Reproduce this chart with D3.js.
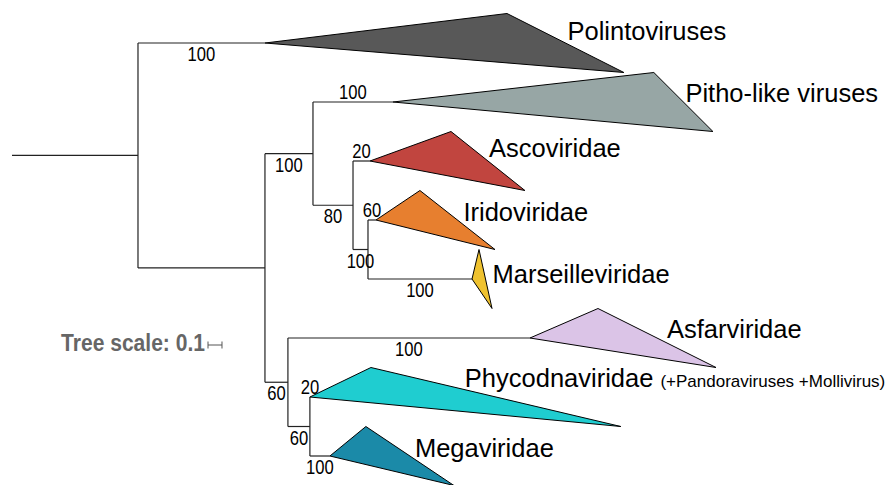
<!DOCTYPE html>
<html>
<head>
<meta charset="utf-8">
<style>
  body { margin: 0; background: #fff; }
  svg { display: block; font-family: "Liberation Sans", Arial, sans-serif; }
</style>
</head>
<body>
<svg width="890" height="485"></svg>
<script src="https://d3js.org/d3.v7.min.js"></script>
<script>

// tree: node ids, parents, branch lengths and bootstrap support
var nodeIds       = ["A", "Polintoviruses", "B", "C", "Pitho-like viruses", "D", "Ascoviridae", "E", "Iridoviridae", "Marseilleviridae", "F", "Asfarviridae", "G", "Phycodnaviridae", "Megaviridae"];
var parentIds     = ["",  "A",              "A", "B", "C",                  "C", "D",           "D", "E",            "E",                "B", "F",            "F", "G",               "G"];
var branchLengths = [0.9, 0.907, 0.907, 0.343, 0.571, 0.286, 0.121, 0.107, 0.057, 0.743, 0.164, 1.729, 0.157, 0.0, 0.143];
var supports      = [null, 100, null, 100, 100, 80, 20, 100, 60, 100, 60, 100, 60, 20, 100];

// collapsed clades (in leaf order): depth to nearest / farthest member
var clades        = ["Polintoviruses", "Pitho-like viruses", "Ascoviridae", "Iridoviridae", "Marseilleviridae", "Asfarviridae", "Phycodnaviridae", "Megaviridae"];
var cladeMinDepth = [1.729, 1.864, 0.579, 0.314, 0.050, 0.486, 0.436, 0.257];
var cladeMaxDepth = [2.564, 2.286, 1.107, 0.850, 0.143, 1.329, 2.221, 0.886];
var cladeNotes    = ["", "", "", "", "", "", "(+Pandoraviruses +Mollivirus)", ""];

var scaleLength = 0.1;

var svg = d3.select("svg");

var color = d3.scaleOrdinal()
    .domain(clades)
    .range(["#585858", "#97a6a5", "#c1453f", "#e77f2f", "#efc22f", "#dbc4e7", "#1fcdd0", "#1b8aa8"]);

// label nudges, picked by eye
var labelOffset = {
  "Polintoviruses": [2, -3], "Pitho-like viruses": [2, 0], "Ascoviridae": [1, -4],
  "Iridoviridae": [6, 1], "Marseilleviridae": [7, 4], "Asfarviridae": [10, 0],
  "Phycodnaviridae": [-31, -10], "Megaviridae": [5, 1]
};
var supportAbove = ["Pitho-like viruses", "Ascoviridae", "Iridoviridae", "Phycodnaviridae"];

var rows = nodeIds.map(function(id, i) {
  return {id: id, parent: parentIds[i] || null, bl: branchLengths[i], support: supports[i]};
});
var root = d3.stratify().id(function(d) { return d.id; }).parentId(function(d) { return d.parent; })(rows);

root.eachBefore(function(n) { n.dist = (n.parent ? n.parent.dist : 0) + n.data.bl; });

var cladeInfo = {};
clades.forEach(function(c, i) { cladeInfo[c] = {min: cladeMinDepth[i], max: cladeMaxDepth[i], note: cladeNotes[i]}; });

var maxTip = d3.max(root.leaves(), function(n) { return n.dist + cladeInfo[n.id].max; });

var x = d3.scaleLinear().domain([0, maxTip]).range([12, 716]);
var y = d3.scaleBand().domain(clades).range([13.5, 485.5]).padding(0);

root.eachAfter(function(n) {
  if (n.children) n.y = d3.mean(n.children, function(c) { return c.y; });
  else n.y = y(n.id) + y.bandwidth() / 2;
});

var gTree = svg.append("g");

// root stub
gTree.append("line")
    .attr("x1", x(0)).attr("x2", x(root.dist))
    .attr("y1", root.y).attr("y2", root.y)
    .attr("stroke", "#222").attr("stroke-width", 1.2);

// horizontal branches
gTree.selectAll(".hbranch")
  .data(root.descendants().slice(1))
  .enter().append("line")
    .attr("class", "hbranch")
    .attr("x1", function(d) { return x(d.parent.dist); })
    .attr("x2", function(d) { return x(d.dist); })
    .attr("y1", function(d) { return d.y; })
    .attr("y2", function(d) { return d.y; })
    .attr("stroke", "#222").attr("stroke-width", 1.2);

// vertical connectors
gTree.selectAll(".vbranch")
  .data(root.descendants().filter(function(d) { return d.children; }))
  .enter().append("line")
    .attr("class", "vbranch")
    .attr("x1", function(d) { return x(d.dist); })
    .attr("x2", function(d) { return x(d.dist); })
    .attr("y1", function(d) { return d.children[0].y; })
    .attr("y2", function(d) { return d.children[d.children.length - 1].y; })
    .attr("stroke", "#222").attr("stroke-width", 1.2);

// collapsed clade triangles
gTree.selectAll(".clade")
  .data(root.leaves())
  .enter().append("polygon")
    .attr("class", "clade")
    .attr("points", function(d) {
      var c = cladeInfo[d.id];
      return [
        [x(d.dist), d.y],
        [x(d.dist + c.min), y(d.id)],
        [x(d.dist + c.max), y(d.id) + y.bandwidth()]
      ].join(" ");
    })
    .attr("fill", function(d) { return color(d.id); })
    .attr("stroke", "#000").attr("stroke-width", 1);

// clade labels
var labels = svg.selectAll(".label")
  .data(root.leaves())
  .enter().append("text")
    .attr("class", "label")
    .attr("x", function(d) { var c = cladeInfo[d.id]; return x(d.dist + (c.min + c.max) / 2) + labelOffset[d.id][0]; })
    .attr("y", function(d) { return d.y + labelOffset[d.id][1]; })
    .attr("font-size", "25.5px")
    .attr("fill", "#000")
    .text(function(d) { return d.id; });

labels.filter(function(d) { return cladeInfo[d.id].note; })
  .append("tspan")
    .attr("dx", 7)
    .attr("font-size", "17px")
    .text(function(d) { return cladeInfo[d.id].note; });

// bootstrap values
svg.selectAll(".support")
  .data(root.descendants().filter(function(d) { return d.data.support != null; }))
  .enter().append("text")
    .attr("class", "support")
    .attr("text-anchor", "middle")
    .attr("x", function(d) { return (x(d.parent.dist) + x(d.dist)) / 2; })
    .attr("y", function(d) { return d.y + (supportAbove.indexOf(d.id) >= 0 ? -3 : 18); })
    .attr("font-size", "20px")
    .attr("fill", "#000")
    .text(function(d) { return d.data.support; })
    .each(function() {
      // narrow the digits like the original
      var w = this.getComputedTextLength();
      d3.select(this).attr("textLength", w * 0.83).attr("lengthAdjust", "spacingAndGlyphs");
    });

// tree scale
var barX = 208, barY = 345, barW = x(scaleLength) - x(0);
svg.append("text")
    .attr("x", barX - 3).attr("y", 351)
    .attr("text-anchor", "end")
    .attr("font-size", "23px")
    .attr("font-weight", "bold")
    .attr("fill", "#666")
    .text("Tree scale: " + scaleLength)
    .each(function() {
      var w = this.getComputedTextLength();
      d3.select(this).attr("textLength", w * 0.915).attr("lengthAdjust", "spacingAndGlyphs");
    });

var bar = svg.append("g").attr("stroke", "#555").attr("stroke-width", 1);
bar.append("line").attr("x1", barX).attr("x2", barX + barW).attr("y1", barY).attr("y2", barY);
bar.append("line").attr("x1", barX).attr("x2", barX).attr("y1", barY - 3.5).attr("y2", barY + 3.5);
bar.append("line").attr("x1", barX + barW).attr("x2", barX + barW).attr("y1", barY - 3.5).attr("y2", barY + 3.5);

</script>
</body>
</html>
